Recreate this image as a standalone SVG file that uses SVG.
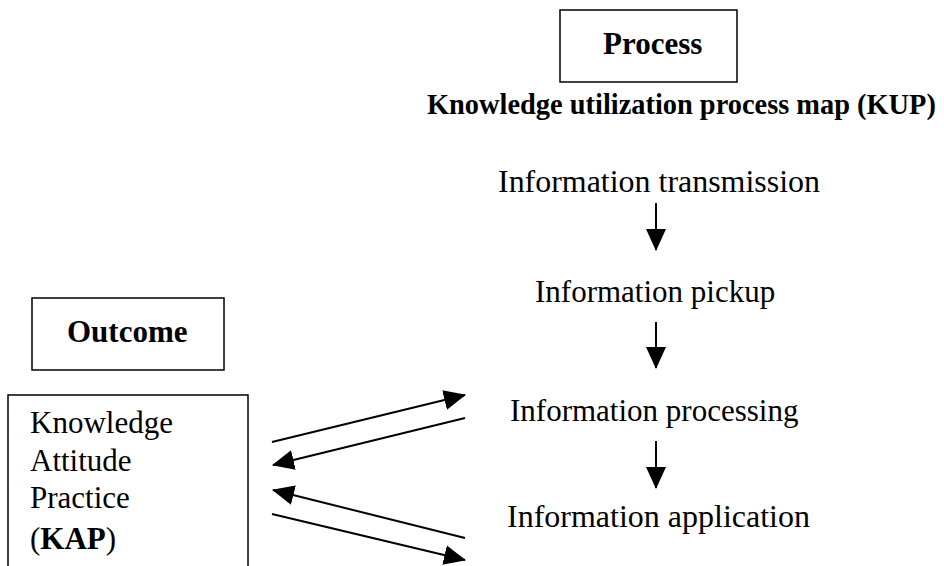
<svg xmlns="http://www.w3.org/2000/svg" width="944" height="566" viewBox="0 0 944 566">
<style>
text,tspan{font-family:"Liberation Serif","Times New Roman",serif;font-size:31px;fill:#000}
.b{font-weight:bold}
.box{fill:#fff;stroke:#000;stroke-width:1.5}
.ln{stroke:#000;stroke-width:2;fill:none}
</style>
<defs>
<marker id="ah" markerUnits="userSpaceOnUse" markerWidth="22" markerHeight="22" viewBox="0 0 22 20" refX="21" refY="10" orient="auto">
<path d="M0,0 L22,10 L0,20 Z" fill="#000"/>
</marker>
</defs>
<rect width="944" height="566" fill="#fff"/>
<g id="process">
<rect class="box" x="560" y="10" width="177" height="72"/>
<text class="b" x="603" y="54">Process</text>
</g>
<g id="kup-title">
<text class="b" x="427" y="114" style="font-size:28.4px">Knowledge utilization process map (KUP)</text>
</g>
<g id="transmission"><text x="498" y="192" textLength="322" lengthAdjust="spacingAndGlyphs">Information transmission</text></g>
<g id="pickup"><text x="535" y="302">Information pickup</text></g>
<g id="processing"><text x="510" y="421">Information processing</text></g>
<g id="application"><text x="507" y="527" textLength="303" lengthAdjust="spacingAndGlyphs">Information application</text></g>
<g id="outcome">
<rect class="box" x="32" y="298" width="192" height="72"/>
<text class="b" x="67" y="342">Outcome</text>
</g>
<g id="kap">
<rect class="box" x="8" y="395" width="240" height="180"/>
<text x="30" y="433">Knowledge</text>
<text x="30" y="471">Attitude</text>
<text x="30" y="508">Practice</text>
<text x="30" y="549">(<tspan class="b">KAP</tspan>)</text>
</g>
<g id="connectors">
<line class="ln" x1="656" y1="203" x2="656" y2="250" marker-end="url(#ah)"/>
<line class="ln" x1="656" y1="322" x2="656" y2="368" marker-end="url(#ah)"/>
<line class="ln" x1="656" y1="441" x2="656" y2="488" marker-end="url(#ah)"/>
<line class="ln" x1="272" y1="442" x2="465" y2="395" marker-end="url(#ah)"/>
<line class="ln" x1="465" y1="418" x2="273" y2="465" marker-end="url(#ah)"/>
<line class="ln" x1="465" y1="538" x2="273" y2="490" marker-end="url(#ah)"/>
<line class="ln" x1="272" y1="514" x2="465" y2="560" marker-end="url(#ah)"/>
</g>
</svg>
